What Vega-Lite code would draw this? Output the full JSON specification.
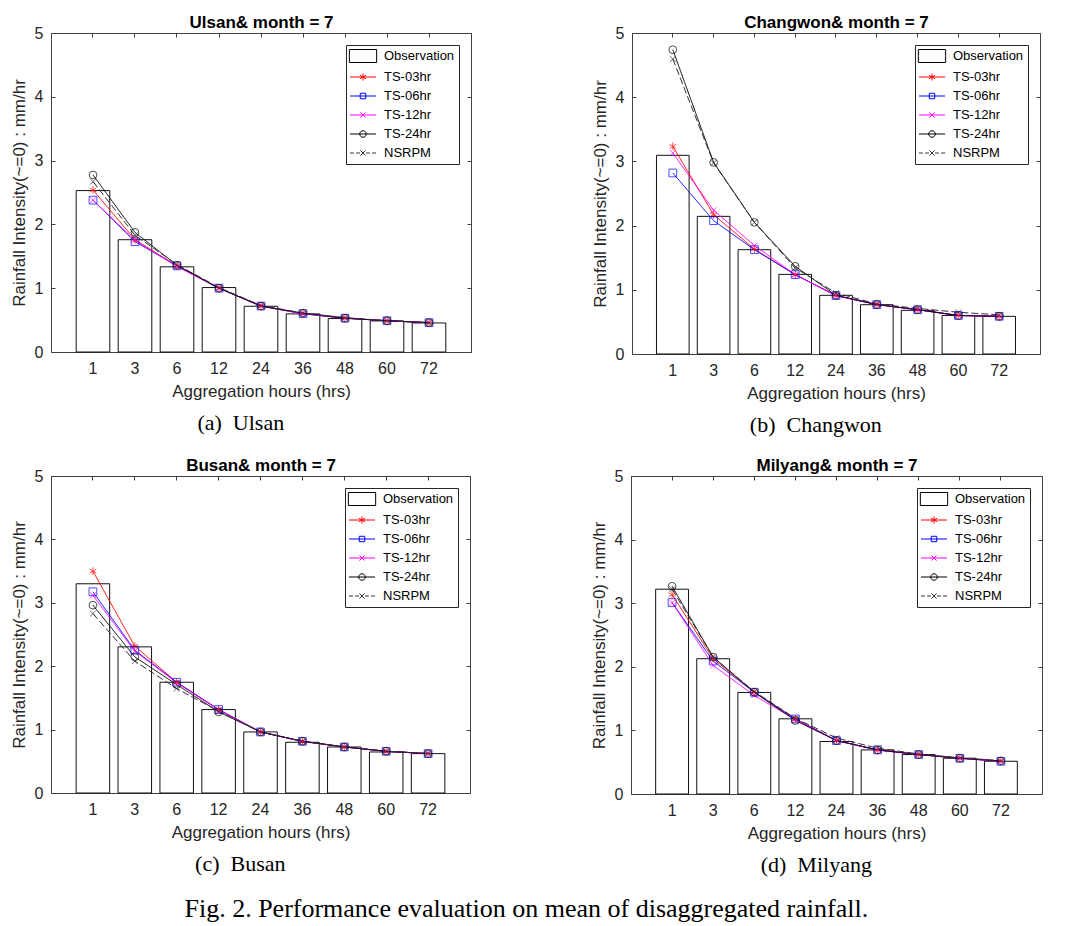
{
"$schema": "https://vega.github.io/schema/vega-lite/v6.json",
"background": "white",
"padding": {"left": 10, "top": 13, "right": 5, "bottom": 5},
"datasets": {"d": [
{"st":"Ulsan","s":"Observation","hr":1,"v":2.53},{"st":"Ulsan","s":"Observation","hr":3,"v":1.76},{"st":"Ulsan","s":"Observation","hr":6,"v":1.335},{"st":"Ulsan","s":"Observation","hr":12,"v":1.01},{"st":"Ulsan","s":"Observation","hr":24,"v":0.717},{"st":"Ulsan","s":"Observation","hr":36,"v":0.597},{"st":"Ulsan","s":"Observation","hr":48,"v":0.524},{"st":"Ulsan","s":"Observation","hr":60,"v":0.487},{"st":"Ulsan","s":"Observation","hr":72,"v":0.455},
{"st":"Ulsan","s":"TS-03hr","hr":1,"v":2.54},{"st":"Ulsan","s":"TS-03hr","hr":3,"v":1.76},{"st":"Ulsan","s":"TS-03hr","hr":6,"v":1.35},{"st":"Ulsan","s":"TS-03hr","hr":12,"v":1.0},{"st":"Ulsan","s":"TS-03hr","hr":24,"v":0.72},{"st":"Ulsan","s":"TS-03hr","hr":36,"v":0.6},{"st":"Ulsan","s":"TS-03hr","hr":48,"v":0.53},{"st":"Ulsan","s":"TS-03hr","hr":60,"v":0.49},{"st":"Ulsan","s":"TS-03hr","hr":72,"v":0.46},
{"st":"Ulsan","s":"TS-06hr","hr":1,"v":2.38},{"st":"Ulsan","s":"TS-06hr","hr":3,"v":1.73},{"st":"Ulsan","s":"TS-06hr","hr":6,"v":1.35},{"st":"Ulsan","s":"TS-06hr","hr":12,"v":1.0},{"st":"Ulsan","s":"TS-06hr","hr":24,"v":0.72},{"st":"Ulsan","s":"TS-06hr","hr":36,"v":0.6},{"st":"Ulsan","s":"TS-06hr","hr":48,"v":0.53},{"st":"Ulsan","s":"TS-06hr","hr":60,"v":0.49},{"st":"Ulsan","s":"TS-06hr","hr":72,"v":0.46},
{"st":"Ulsan","s":"TS-12hr","hr":1,"v":2.38},{"st":"Ulsan","s":"TS-12hr","hr":3,"v":1.75},{"st":"Ulsan","s":"TS-12hr","hr":6,"v":1.34},{"st":"Ulsan","s":"TS-12hr","hr":12,"v":1.0},{"st":"Ulsan","s":"TS-12hr","hr":24,"v":0.72},{"st":"Ulsan","s":"TS-12hr","hr":36,"v":0.6},{"st":"Ulsan","s":"TS-12hr","hr":48,"v":0.53},{"st":"Ulsan","s":"TS-12hr","hr":60,"v":0.49},{"st":"Ulsan","s":"TS-12hr","hr":72,"v":0.46},
{"st":"Ulsan","s":"TS-24hr","hr":1,"v":2.775},{"st":"Ulsan","s":"TS-24hr","hr":3,"v":1.874},{"st":"Ulsan","s":"TS-24hr","hr":6,"v":1.36},{"st":"Ulsan","s":"TS-24hr","hr":12,"v":1.0},{"st":"Ulsan","s":"TS-24hr","hr":24,"v":0.72},{"st":"Ulsan","s":"TS-24hr","hr":36,"v":0.61},{"st":"Ulsan","s":"TS-24hr","hr":48,"v":0.53},{"st":"Ulsan","s":"TS-24hr","hr":60,"v":0.49},{"st":"Ulsan","s":"TS-24hr","hr":72,"v":0.46},
{"st":"Ulsan","s":"NSRPM","hr":1,"v":2.67},{"st":"Ulsan","s":"NSRPM","hr":3,"v":1.83},{"st":"Ulsan","s":"NSRPM","hr":6,"v":1.37},{"st":"Ulsan","s":"NSRPM","hr":12,"v":1.01},{"st":"Ulsan","s":"NSRPM","hr":24,"v":0.73},{"st":"Ulsan","s":"NSRPM","hr":36,"v":0.61},{"st":"Ulsan","s":"NSRPM","hr":48,"v":0.54},{"st":"Ulsan","s":"NSRPM","hr":60,"v":0.49},{"st":"Ulsan","s":"NSRPM","hr":72,"v":0.46},
{"st":"Changwon","s":"Observation","hr":1,"v":3.095},{"st":"Changwon","s":"Observation","hr":3,"v":2.144},{"st":"Changwon","s":"Observation","hr":6,"v":1.625},{"st":"Changwon","s":"Observation","hr":12,"v":1.24},{"st":"Changwon","s":"Observation","hr":24,"v":0.914},{"st":"Changwon","s":"Observation","hr":36,"v":0.768},{"st":"Changwon","s":"Observation","hr":48,"v":0.68},{"st":"Changwon","s":"Observation","hr":60,"v":0.6},{"st":"Changwon","s":"Observation","hr":72,"v":0.587},
{"st":"Changwon","s":"TS-03hr","hr":1,"v":3.235},{"st":"Changwon","s":"TS-03hr","hr":3,"v":2.17},{"st":"Changwon","s":"TS-03hr","hr":6,"v":1.635},{"st":"Changwon","s":"TS-03hr","hr":12,"v":1.236},{"st":"Changwon","s":"TS-03hr","hr":24,"v":0.91},{"st":"Changwon","s":"TS-03hr","hr":36,"v":0.77},{"st":"Changwon","s":"TS-03hr","hr":48,"v":0.69},{"st":"Changwon","s":"TS-03hr","hr":60,"v":0.6},{"st":"Changwon","s":"TS-03hr","hr":72,"v":0.587},
{"st":"Changwon","s":"TS-06hr","hr":1,"v":2.82},{"st":"Changwon","s":"TS-06hr","hr":3,"v":2.077},{"st":"Changwon","s":"TS-06hr","hr":6,"v":1.625},{"st":"Changwon","s":"TS-06hr","hr":12,"v":1.236},{"st":"Changwon","s":"TS-06hr","hr":24,"v":0.91},{"st":"Changwon","s":"TS-06hr","hr":36,"v":0.77},{"st":"Changwon","s":"TS-06hr","hr":48,"v":0.69},{"st":"Changwon","s":"TS-06hr","hr":60,"v":0.6},{"st":"Changwon","s":"TS-06hr","hr":72,"v":0.587},
{"st":"Changwon","s":"TS-12hr","hr":1,"v":3.13},{"st":"Changwon","s":"TS-12hr","hr":3,"v":2.24},{"st":"Changwon","s":"TS-12hr","hr":6,"v":1.69},{"st":"Changwon","s":"TS-12hr","hr":12,"v":1.236},{"st":"Changwon","s":"TS-12hr","hr":24,"v":0.91},{"st":"Changwon","s":"TS-12hr","hr":36,"v":0.77},{"st":"Changwon","s":"TS-12hr","hr":48,"v":0.69},{"st":"Changwon","s":"TS-12hr","hr":60,"v":0.6},{"st":"Changwon","s":"TS-12hr","hr":72,"v":0.587},
{"st":"Changwon","s":"TS-24hr","hr":1,"v":4.74},{"st":"Changwon","s":"TS-24hr","hr":3,"v":2.985},{"st":"Changwon","s":"TS-24hr","hr":6,"v":2.05},{"st":"Changwon","s":"TS-24hr","hr":12,"v":1.366},{"st":"Changwon","s":"TS-24hr","hr":24,"v":0.914},{"st":"Changwon","s":"TS-24hr","hr":36,"v":0.77},{"st":"Changwon","s":"TS-24hr","hr":48,"v":0.69},{"st":"Changwon","s":"TS-24hr","hr":60,"v":0.6},{"st":"Changwon","s":"TS-24hr","hr":72,"v":0.587},
{"st":"Changwon","s":"NSRPM","hr":1,"v":4.595},{"st":"Changwon","s":"NSRPM","hr":3,"v":2.975},{"st":"Changwon","s":"NSRPM","hr":6,"v":2.05},{"st":"Changwon","s":"NSRPM","hr":12,"v":1.34},{"st":"Changwon","s":"NSRPM","hr":24,"v":0.95},{"st":"Changwon","s":"NSRPM","hr":36,"v":0.78},{"st":"Changwon","s":"NSRPM","hr":48,"v":0.71},{"st":"Changwon","s":"NSRPM","hr":60,"v":0.65},{"st":"Changwon","s":"NSRPM","hr":72,"v":0.61},
{"st":"Busan","s":"Observation","hr":1,"v":3.3},{"st":"Busan","s":"Observation","hr":3,"v":2.305},{"st":"Busan","s":"Observation","hr":6,"v":1.747},{"st":"Busan","s":"Observation","hr":12,"v":1.316},{"st":"Busan","s":"Observation","hr":24,"v":0.963},{"st":"Busan","s":"Observation","hr":36,"v":0.8},{"st":"Busan","s":"Observation","hr":48,"v":0.726},{"st":"Busan","s":"Observation","hr":60,"v":0.647},{"st":"Busan","s":"Observation","hr":72,"v":0.621},
{"st":"Busan","s":"TS-03hr","hr":1,"v":3.5},{"st":"Busan","s":"TS-03hr","hr":3,"v":2.316},{"st":"Busan","s":"TS-03hr","hr":6,"v":1.747},{"st":"Busan","s":"TS-03hr","hr":12,"v":1.316},{"st":"Busan","s":"TS-03hr","hr":24,"v":0.963},{"st":"Busan","s":"TS-03hr","hr":36,"v":0.816},{"st":"Busan","s":"TS-03hr","hr":48,"v":0.726},{"st":"Busan","s":"TS-03hr","hr":60,"v":0.658},{"st":"Busan","s":"TS-03hr","hr":72,"v":0.621},
{"st":"Busan","s":"TS-06hr","hr":1,"v":3.174},{"st":"Busan","s":"TS-06hr","hr":3,"v":2.253},{"st":"Busan","s":"TS-06hr","hr":6,"v":1.747},{"st":"Busan","s":"TS-06hr","hr":12,"v":1.316},{"st":"Busan","s":"TS-06hr","hr":24,"v":0.963},{"st":"Busan","s":"TS-06hr","hr":36,"v":0.816},{"st":"Busan","s":"TS-06hr","hr":48,"v":0.726},{"st":"Busan","s":"TS-06hr","hr":60,"v":0.658},{"st":"Busan","s":"TS-06hr","hr":72,"v":0.621},
{"st":"Busan","s":"TS-12hr","hr":1,"v":3.12},{"st":"Busan","s":"TS-12hr","hr":3,"v":2.237},{"st":"Busan","s":"TS-12hr","hr":6,"v":1.74},{"st":"Busan","s":"TS-12hr","hr":12,"v":1.31},{"st":"Busan","s":"TS-12hr","hr":24,"v":0.963},{"st":"Busan","s":"TS-12hr","hr":36,"v":0.81},{"st":"Busan","s":"TS-12hr","hr":48,"v":0.726},{"st":"Busan","s":"TS-12hr","hr":60,"v":0.658},{"st":"Busan","s":"TS-12hr","hr":72,"v":0.621},
{"st":"Busan","s":"TS-24hr","hr":1,"v":2.963},{"st":"Busan","s":"TS-24hr","hr":3,"v":2.147},{"st":"Busan","s":"TS-24hr","hr":6,"v":1.71},{"st":"Busan","s":"TS-24hr","hr":12,"v":1.28},{"st":"Busan","s":"TS-24hr","hr":24,"v":0.963},{"st":"Busan","s":"TS-24hr","hr":36,"v":0.816},{"st":"Busan","s":"TS-24hr","hr":48,"v":0.726},{"st":"Busan","s":"TS-24hr","hr":60,"v":0.658},{"st":"Busan","s":"TS-24hr","hr":72,"v":0.621},
{"st":"Busan","s":"NSRPM","hr":1,"v":2.83},{"st":"Busan","s":"NSRPM","hr":3,"v":2.08},{"st":"Busan","s":"NSRPM","hr":6,"v":1.647},{"st":"Busan","s":"NSRPM","hr":12,"v":1.29},{"st":"Busan","s":"NSRPM","hr":24,"v":0.963},{"st":"Busan","s":"NSRPM","hr":36,"v":0.816},{"st":"Busan","s":"NSRPM","hr":48,"v":0.73},{"st":"Busan","s":"NSRPM","hr":60,"v":0.66},{"st":"Busan","s":"NSRPM","hr":72,"v":0.625},
{"st":"Milyang","s":"Observation","hr":1,"v":3.22},{"st":"Milyang","s":"Observation","hr":3,"v":2.127},{"st":"Milyang","s":"Observation","hr":6,"v":1.597},{"st":"Milyang","s":"Observation","hr":12,"v":1.182},{"st":"Milyang","s":"Observation","hr":24,"v":0.825},{"st":"Milyang","s":"Observation","hr":36,"v":0.693},{"st":"Milyang","s":"Observation","hr":48,"v":0.62},{"st":"Milyang","s":"Observation","hr":60,"v":0.562},{"st":"Milyang","s":"Observation","hr":72,"v":0.515},
{"st":"Milyang","s":"TS-03hr","hr":1,"v":3.135},{"st":"Milyang","s":"TS-03hr","hr":3,"v":2.127},{"st":"Milyang","s":"TS-03hr","hr":6,"v":1.6},{"st":"Milyang","s":"TS-03hr","hr":12,"v":1.18},{"st":"Milyang","s":"TS-03hr","hr":24,"v":0.84},{"st":"Milyang","s":"TS-03hr","hr":36,"v":0.693},{"st":"Milyang","s":"TS-03hr","hr":48,"v":0.62},{"st":"Milyang","s":"TS-03hr","hr":60,"v":0.562},{"st":"Milyang","s":"TS-03hr","hr":72,"v":0.515},
{"st":"Milyang","s":"TS-06hr","hr":1,"v":3.01},{"st":"Milyang","s":"TS-06hr","hr":3,"v":2.09},{"st":"Milyang","s":"TS-06hr","hr":6,"v":1.6},{"st":"Milyang","s":"TS-06hr","hr":12,"v":1.18},{"st":"Milyang","s":"TS-06hr","hr":24,"v":0.84},{"st":"Milyang","s":"TS-06hr","hr":36,"v":0.693},{"st":"Milyang","s":"TS-06hr","hr":48,"v":0.62},{"st":"Milyang","s":"TS-06hr","hr":60,"v":0.562},{"st":"Milyang","s":"TS-06hr","hr":72,"v":0.515},
{"st":"Milyang","s":"TS-12hr","hr":1,"v":3.01},{"st":"Milyang","s":"TS-12hr","hr":3,"v":2.02},{"st":"Milyang","s":"TS-12hr","hr":6,"v":1.55},{"st":"Milyang","s":"TS-12hr","hr":12,"v":1.17},{"st":"Milyang","s":"TS-12hr","hr":24,"v":0.84},{"st":"Milyang","s":"TS-12hr","hr":36,"v":0.69},{"st":"Milyang","s":"TS-12hr","hr":48,"v":0.62},{"st":"Milyang","s":"TS-12hr","hr":60,"v":0.56},{"st":"Milyang","s":"TS-12hr","hr":72,"v":0.515},
{"st":"Milyang","s":"TS-24hr","hr":1,"v":3.267},{"st":"Milyang","s":"TS-24hr","hr":3,"v":2.153},{"st":"Milyang","s":"TS-24hr","hr":6,"v":1.6},{"st":"Milyang","s":"TS-24hr","hr":12,"v":1.155},{"st":"Milyang","s":"TS-24hr","hr":24,"v":0.84},{"st":"Milyang","s":"TS-24hr","hr":36,"v":0.693},{"st":"Milyang","s":"TS-24hr","hr":48,"v":0.62},{"st":"Milyang","s":"TS-24hr","hr":60,"v":0.562},{"st":"Milyang","s":"TS-24hr","hr":72,"v":0.52},
{"st":"Milyang","s":"NSRPM","hr":1,"v":3.22},{"st":"Milyang","s":"NSRPM","hr":3,"v":2.153},{"st":"Milyang","s":"NSRPM","hr":6,"v":1.61},{"st":"Milyang","s":"NSRPM","hr":12,"v":1.19},{"st":"Milyang","s":"NSRPM","hr":24,"v":0.88},{"st":"Milyang","s":"NSRPM","hr":36,"v":0.72},{"st":"Milyang","s":"NSRPM","hr":48,"v":0.63},{"st":"Milyang","s":"NSRPM","hr":60,"v":0.57},{"st":"Milyang","s":"NSRPM","hr":72,"v":0.525}
]},
"data": {"name": "d"},
"config": {
  "font": "Liberation Sans",
  "view": {"stroke": null},
  "axis": {"domainColor": "#404040", "tickColor": "#404040", "labelColor": "#262626", "titleColor": "#262626", "labelFontSize": 16, "titleFontSize": 17, "titleFontWeight": "normal", "grid": false, "tickSize": -4, "labelPadding": 12, "domainWidth": 1, "tickWidth": 1, "bandPosition": 0.5},
  "legend": {"orient": "top-right", "offset": 12, "strokeColor": "#262626", "fillColor": "white", "padding": 4, "labelFontSize": 13, "labelColor": "#000", "labelFont": "Liberation Sans", "symbolSize": 169, "symbolStrokeWidth": 1, "symbolOpacity": 1, "symbolOffset": 6, "labelOffset": 14, "rowPadding": 5, "cornerRadius": 0},
  "title": {"font": "Liberation Serif", "fontSize": 22, "fontWeight": "normal", "color": "#000", "frame": "bounds", "anchor": "middle"}
},
"title": {"text": "Fig. 2. Performance evaluation on mean of disaggregated rainfall.", "orient": "bottom", "fontSize": 26, "offset": 20, "anchor": "middle", "frame": "bounds"},
"spacing": 20,
"resolve": {"scale": {"color": "independent", "shape": "independent", "strokeDash": "independent"}},
"vconcat": [
{"hconcat": [
{"width": 420, "height": 319,
 "title": {"text": "(a)\u00a0\u00a0Ulsan", "orient": "bottom", "offset": 14},
 "transform": [{"filter": "datum.st === 'Ulsan'"}],
 "layer": [
  {"transform": [{"filter": "datum.s === 'Observation'"}],
   "mark": {"type": "bar", "fill": "white", "stroke": "#111", "strokeWidth": 1},
   "encoding": {
     "x": {"field": "hr", "type": "ordinal", "scale": {"paddingInner": 0.2, "paddingOuter": 0.6}, "axis": {"orient": "bottom", "title": "Aggregation hours (hrs)", "labelAngle": 0, "titlePadding": 7}},
     "y": {"field": "v", "type": "quantitative", "scale": {"domain": [0, 5], "nice": false}, "axis": {"orient": "left", "title": "Rainfall Intensity(~=0) : mm/hr", "values": [0,1,2,3,4,5], "titlePadding": 6}}}},
  {"transform": [{"filter": "datum.s !== 'Observation'"}],
   "mark": {"type": "line", "strokeWidth": 1},
   "encoding": {
     "x": {"field": "hr", "type": "ordinal", "axis": null},
     "y": {"field": "v", "type": "quantitative", "axis": null},
     "color": {"field": "s", "type": "nominal", "scale": {"domain": ["TS-03hr","TS-06hr","TS-12hr","TS-24hr","NSRPM"], "range": ["#ff0000","#0000ff","#ff00ff","#000000","#333333"]}, "legend": null},
     "strokeDash": {"field": "s", "type": "nominal", "scale": {"domain": ["TS-03hr","TS-06hr","TS-12hr","TS-24hr","NSRPM"], "range": [[1,0],[1,0],[1,0],[1,0],[7,3]]}, "legend": null}}},
  {"transform": [{"filter": "datum.s !== 'Observation'"}],
   "mark": {"type": "point", "filled": false, "strokeWidth": 1, "size": 60},
   "encoding": {
     "x": {"field": "hr", "type": "ordinal", "axis": null},
     "y": {"field": "v", "type": "quantitative", "axis": null},
     "color": {"field": "s", "type": "nominal", "scale": {"domain": ["TS-03hr","TS-06hr","TS-12hr","TS-24hr","NSRPM"], "range": ["#ff0000","#0000ff","#ff00ff","#000000","#333333"]}, "legend": null},
     "shape": {"field": "s", "type": "nominal", "scale": {"domain": ["TS-03hr","TS-06hr","TS-12hr","TS-24hr","NSRPM"], "range": ["M0,-1V1M-0.87,-0.5L0.87,0.5M-0.87,0.5L0.87,-0.5","square","M-0.75,-0.75L0.75,0.75M-0.75,0.75L0.75,-0.75","circle","M-0.75,-0.75L0.75,0.75M-0.75,0.75L0.75,-0.75"]}, "legend": null}}},
  {"mark": {"type": "point", "opacity": 0, "filled": false},
   "encoding": {
     "x": {"field": "hr", "type": "ordinal", "axis": {"orient": "top", "labels": false, "title": "Ulsan& month = 7", "titleFontWeight": "bold", "titleFontSize": 17, "titleColor": "#000", "titlePadding": 1}},
     "y": {"field": "v", "type": "quantitative", "axis": {"orient": "right", "labels": false, "title": null, "values": [0,1,2,3,4,5]}},
     "color": {"field": "s", "type": "nominal", "scale": {"domain": ["Observation","TS-03hr","TS-06hr","TS-12hr","TS-24hr","NSRPM"], "range": ["#000000","#ff0000","#0000ff","#ff00ff","#000000","#333333"]}, "legend": {"title": null}},
     "shape": {"field": "s", "type": "nominal", "scale": {"domain": ["Observation","TS-03hr","TS-06hr","TS-12hr","TS-24hr","NSRPM"], "range": ["M-2.1,-1H2.1V1H-2.1Z","M-2,0H2M0,-0.55V0.55M-0.48,-0.28L0.48,0.28M-0.48,0.28L0.48,-0.28","M-2,0H2M-0.42,-0.42H0.42V0.42H-0.42Z","M-2,0H2M-0.4,-0.4L0.4,0.4M-0.4,0.4L0.4,-0.4","M-2,0H2M0.5,0A0.5,0.5 0 1,1 -0.5,0A0.5,0.5 0 1,1 0.5,0","M-2,0H-1.4M-1.05,0H-0.45M0.45,0H1.05M1.4,0H2M-0.4,-0.4L0.4,0.4M-0.4,0.4L0.4,-0.4"]}, "legend": {"title": null}}}}
 ],
 "resolve": {"axis": {"x": "independent", "y": "independent"}, "scale": {"color": "independent", "shape": "independent", "strokeDash": "independent"}}},
{"width": 408, "height": 321,
 "title": {"text": "(b)\u00a0\u00a0Changwon", "orient": "bottom", "offset": 14},
 "transform": [{"filter": "datum.st === 'Changwon'"}],
 "layer": [
  {"transform": [{"filter": "datum.s === 'Observation'"}],
   "mark": {"type": "bar", "fill": "white", "stroke": "#111", "strokeWidth": 1},
   "encoding": {
     "x": {"field": "hr", "type": "ordinal", "scale": {"paddingInner": 0.2, "paddingOuter": 0.6}, "axis": {"orient": "bottom", "title": "Aggregation hours (hrs)", "labelAngle": 0, "titlePadding": 7}},
     "y": {"field": "v", "type": "quantitative", "scale": {"domain": [0, 5], "nice": false}, "axis": {"orient": "left", "title": "Rainfall Intensity(~=0) : mm/hr", "values": [0,1,2,3,4,5], "titlePadding": 6}}}},
  {"transform": [{"filter": "datum.s !== 'Observation'"}],
   "mark": {"type": "line", "strokeWidth": 1},
   "encoding": {
     "x": {"field": "hr", "type": "ordinal", "axis": null},
     "y": {"field": "v", "type": "quantitative", "axis": null},
     "color": {"field": "s", "type": "nominal", "scale": {"domain": ["TS-03hr","TS-06hr","TS-12hr","TS-24hr","NSRPM"], "range": ["#ff0000","#0000ff","#ff00ff","#000000","#333333"]}, "legend": null},
     "strokeDash": {"field": "s", "type": "nominal", "scale": {"domain": ["TS-03hr","TS-06hr","TS-12hr","TS-24hr","NSRPM"], "range": [[1,0],[1,0],[1,0],[1,0],[7,3]]}, "legend": null}}},
  {"transform": [{"filter": "datum.s !== 'Observation'"}],
   "mark": {"type": "point", "filled": false, "strokeWidth": 1, "size": 60},
   "encoding": {
     "x": {"field": "hr", "type": "ordinal", "axis": null},
     "y": {"field": "v", "type": "quantitative", "axis": null},
     "color": {"field": "s", "type": "nominal", "scale": {"domain": ["TS-03hr","TS-06hr","TS-12hr","TS-24hr","NSRPM"], "range": ["#ff0000","#0000ff","#ff00ff","#000000","#333333"]}, "legend": null},
     "shape": {"field": "s", "type": "nominal", "scale": {"domain": ["TS-03hr","TS-06hr","TS-12hr","TS-24hr","NSRPM"], "range": ["M0,-1V1M-0.87,-0.5L0.87,0.5M-0.87,0.5L0.87,-0.5","square","M-0.75,-0.75L0.75,0.75M-0.75,0.75L0.75,-0.75","circle","M-0.75,-0.75L0.75,0.75M-0.75,0.75L0.75,-0.75"]}, "legend": null}}},
  {"mark": {"type": "point", "opacity": 0, "filled": false},
   "encoding": {
     "x": {"field": "hr", "type": "ordinal", "axis": {"orient": "top", "labels": false, "title": "Changwon& month = 7", "titleFontWeight": "bold", "titleFontSize": 17, "titleColor": "#000", "titlePadding": 1}},
     "y": {"field": "v", "type": "quantitative", "axis": {"orient": "right", "labels": false, "title": null, "values": [0,1,2,3,4,5]}},
     "color": {"field": "s", "type": "nominal", "scale": {"domain": ["Observation","TS-03hr","TS-06hr","TS-12hr","TS-24hr","NSRPM"], "range": ["#000000","#ff0000","#0000ff","#ff00ff","#000000","#333333"]}, "legend": {"title": null}},
     "shape": {"field": "s", "type": "nominal", "scale": {"domain": ["Observation","TS-03hr","TS-06hr","TS-12hr","TS-24hr","NSRPM"], "range": ["M-2.1,-1H2.1V1H-2.1Z","M-2,0H2M0,-0.55V0.55M-0.48,-0.28L0.48,0.28M-0.48,0.28L0.48,-0.28","M-2,0H2M-0.42,-0.42H0.42V0.42H-0.42Z","M-2,0H2M-0.4,-0.4L0.4,0.4M-0.4,0.4L0.4,-0.4","M-2,0H2M0.5,0A0.5,0.5 0 1,1 -0.5,0A0.5,0.5 0 1,1 0.5,0","M-2,0H-1.4M-1.05,0H-0.45M0.45,0H1.05M1.4,0H2M-0.4,-0.4L0.4,0.4M-0.4,0.4L0.4,-0.4"]}, "legend": {"title": null}}}}
 ],
 "resolve": {"axis": {"x": "independent", "y": "independent"}, "scale": {"color": "independent", "shape": "independent", "strokeDash": "independent"}}}
], "spacing": 119, "resolve": {"scale": {"color": "independent", "shape": "independent", "strokeDash": "independent"}}},
{"hconcat": [
{"width": 419, "height": 317,
 "title": {"text": "(c)\u00a0\u00a0Busan", "orient": "bottom", "offset": 14},
 "transform": [{"filter": "datum.st === 'Busan'"}],
 "layer": [
  {"transform": [{"filter": "datum.s === 'Observation'"}],
   "mark": {"type": "bar", "fill": "white", "stroke": "#111", "strokeWidth": 1},
   "encoding": {
     "x": {"field": "hr", "type": "ordinal", "scale": {"paddingInner": 0.2, "paddingOuter": 0.6}, "axis": {"orient": "bottom", "title": "Aggregation hours (hrs)", "labelAngle": 0, "titlePadding": 7}},
     "y": {"field": "v", "type": "quantitative", "scale": {"domain": [0, 5], "nice": false}, "axis": {"orient": "left", "title": "Rainfall Intensity(~=0) : mm/hr", "values": [0,1,2,3,4,5], "titlePadding": 6}}}},
  {"transform": [{"filter": "datum.s !== 'Observation'"}],
   "mark": {"type": "line", "strokeWidth": 1},
   "encoding": {
     "x": {"field": "hr", "type": "ordinal", "axis": null},
     "y": {"field": "v", "type": "quantitative", "axis": null},
     "color": {"field": "s", "type": "nominal", "scale": {"domain": ["TS-03hr","TS-06hr","TS-12hr","TS-24hr","NSRPM"], "range": ["#ff0000","#0000ff","#ff00ff","#000000","#333333"]}, "legend": null},
     "strokeDash": {"field": "s", "type": "nominal", "scale": {"domain": ["TS-03hr","TS-06hr","TS-12hr","TS-24hr","NSRPM"], "range": [[1,0],[1,0],[1,0],[1,0],[7,3]]}, "legend": null}}},
  {"transform": [{"filter": "datum.s !== 'Observation'"}],
   "mark": {"type": "point", "filled": false, "strokeWidth": 1, "size": 60},
   "encoding": {
     "x": {"field": "hr", "type": "ordinal", "axis": null},
     "y": {"field": "v", "type": "quantitative", "axis": null},
     "color": {"field": "s", "type": "nominal", "scale": {"domain": ["TS-03hr","TS-06hr","TS-12hr","TS-24hr","NSRPM"], "range": ["#ff0000","#0000ff","#ff00ff","#000000","#333333"]}, "legend": null},
     "shape": {"field": "s", "type": "nominal", "scale": {"domain": ["TS-03hr","TS-06hr","TS-12hr","TS-24hr","NSRPM"], "range": ["M0,-1V1M-0.87,-0.5L0.87,0.5M-0.87,0.5L0.87,-0.5","square","M-0.75,-0.75L0.75,0.75M-0.75,0.75L0.75,-0.75","circle","M-0.75,-0.75L0.75,0.75M-0.75,0.75L0.75,-0.75"]}, "legend": null}}},
  {"mark": {"type": "point", "opacity": 0, "filled": false},
   "encoding": {
     "x": {"field": "hr", "type": "ordinal", "axis": {"orient": "top", "labels": false, "title": "Busan& month = 7", "titleFontWeight": "bold", "titleFontSize": 17, "titleColor": "#000", "titlePadding": 1}},
     "y": {"field": "v", "type": "quantitative", "axis": {"orient": "right", "labels": false, "title": null, "values": [0,1,2,3,4,5]}},
     "color": {"field": "s", "type": "nominal", "scale": {"domain": ["Observation","TS-03hr","TS-06hr","TS-12hr","TS-24hr","NSRPM"], "range": ["#000000","#ff0000","#0000ff","#ff00ff","#000000","#333333"]}, "legend": {"title": null}},
     "shape": {"field": "s", "type": "nominal", "scale": {"domain": ["Observation","TS-03hr","TS-06hr","TS-12hr","TS-24hr","NSRPM"], "range": ["M-2.1,-1H2.1V1H-2.1Z","M-2,0H2M0,-0.55V0.55M-0.48,-0.28L0.48,0.28M-0.48,0.28L0.48,-0.28","M-2,0H2M-0.42,-0.42H0.42V0.42H-0.42Z","M-2,0H2M-0.4,-0.4L0.4,0.4M-0.4,0.4L0.4,-0.4","M-2,0H2M0.5,0A0.5,0.5 0 1,1 -0.5,0A0.5,0.5 0 1,1 0.5,0","M-2,0H-1.4M-1.05,0H-0.45M0.45,0H1.05M1.4,0H2M-0.4,-0.4L0.4,0.4M-0.4,0.4L0.4,-0.4"]}, "legend": {"title": null}}}}
 ],
 "resolve": {"axis": {"x": "independent", "y": "independent"}, "scale": {"color": "independent", "shape": "independent", "strokeDash": "independent"}}},
{"width": 411, "height": 318,
 "title": {"text": "(d)\u00a0\u00a0Milyang", "orient": "bottom", "offset": 14},
 "transform": [{"filter": "datum.st === 'Milyang'"}],
 "layer": [
  {"transform": [{"filter": "datum.s === 'Observation'"}],
   "mark": {"type": "bar", "fill": "white", "stroke": "#111", "strokeWidth": 1},
   "encoding": {
     "x": {"field": "hr", "type": "ordinal", "scale": {"paddingInner": 0.2, "paddingOuter": 0.6}, "axis": {"orient": "bottom", "title": "Aggregation hours (hrs)", "labelAngle": 0, "titlePadding": 7}},
     "y": {"field": "v", "type": "quantitative", "scale": {"domain": [0, 5], "nice": false}, "axis": {"orient": "left", "title": "Rainfall Intensity(~=0) : mm/hr", "values": [0,1,2,3,4,5], "titlePadding": 6}}}},
  {"transform": [{"filter": "datum.s !== 'Observation'"}],
   "mark": {"type": "line", "strokeWidth": 1},
   "encoding": {
     "x": {"field": "hr", "type": "ordinal", "axis": null},
     "y": {"field": "v", "type": "quantitative", "axis": null},
     "color": {"field": "s", "type": "nominal", "scale": {"domain": ["TS-03hr","TS-06hr","TS-12hr","TS-24hr","NSRPM"], "range": ["#ff0000","#0000ff","#ff00ff","#000000","#333333"]}, "legend": null},
     "strokeDash": {"field": "s", "type": "nominal", "scale": {"domain": ["TS-03hr","TS-06hr","TS-12hr","TS-24hr","NSRPM"], "range": [[1,0],[1,0],[1,0],[1,0],[7,3]]}, "legend": null}}},
  {"transform": [{"filter": "datum.s !== 'Observation'"}],
   "mark": {"type": "point", "filled": false, "strokeWidth": 1, "size": 60},
   "encoding": {
     "x": {"field": "hr", "type": "ordinal", "axis": null},
     "y": {"field": "v", "type": "quantitative", "axis": null},
     "color": {"field": "s", "type": "nominal", "scale": {"domain": ["TS-03hr","TS-06hr","TS-12hr","TS-24hr","NSRPM"], "range": ["#ff0000","#0000ff","#ff00ff","#000000","#333333"]}, "legend": null},
     "shape": {"field": "s", "type": "nominal", "scale": {"domain": ["TS-03hr","TS-06hr","TS-12hr","TS-24hr","NSRPM"], "range": ["M0,-1V1M-0.87,-0.5L0.87,0.5M-0.87,0.5L0.87,-0.5","square","M-0.75,-0.75L0.75,0.75M-0.75,0.75L0.75,-0.75","circle","M-0.75,-0.75L0.75,0.75M-0.75,0.75L0.75,-0.75"]}, "legend": null}}},
  {"mark": {"type": "point", "opacity": 0, "filled": false},
   "encoding": {
     "x": {"field": "hr", "type": "ordinal", "axis": {"orient": "top", "labels": false, "title": "Milyang& month = 7", "titleFontWeight": "bold", "titleFontSize": 17, "titleColor": "#000", "titlePadding": 1}},
     "y": {"field": "v", "type": "quantitative", "axis": {"orient": "right", "labels": false, "title": null, "values": [0,1,2,3,4,5]}},
     "color": {"field": "s", "type": "nominal", "scale": {"domain": ["Observation","TS-03hr","TS-06hr","TS-12hr","TS-24hr","NSRPM"], "range": ["#000000","#ff0000","#0000ff","#ff00ff","#000000","#333333"]}, "legend": {"title": null}},
     "shape": {"field": "s", "type": "nominal", "scale": {"domain": ["Observation","TS-03hr","TS-06hr","TS-12hr","TS-24hr","NSRPM"], "range": ["M-2.1,-1H2.1V1H-2.1Z","M-2,0H2M0,-0.55V0.55M-0.48,-0.28L0.48,0.28M-0.48,0.28L0.48,-0.28","M-2,0H2M-0.42,-0.42H0.42V0.42H-0.42Z","M-2,0H2M-0.4,-0.4L0.4,0.4M-0.4,0.4L0.4,-0.4","M-2,0H2M0.5,0A0.5,0.5 0 1,1 -0.5,0A0.5,0.5 0 1,1 0.5,0","M-2,0H-1.4M-1.05,0H-0.45M0.45,0H1.05M1.4,0H2M-0.4,-0.4L0.4,0.4M-0.4,0.4L0.4,-0.4"]}, "legend": {"title": null}}}}
 ],
 "resolve": {"axis": {"x": "independent", "y": "independent"}, "scale": {"color": "independent", "shape": "independent", "strokeDash": "independent"}}}
], "spacing": 119, "resolve": {"scale": {"color": "independent", "shape": "independent", "strokeDash": "independent"}}}
]
}
